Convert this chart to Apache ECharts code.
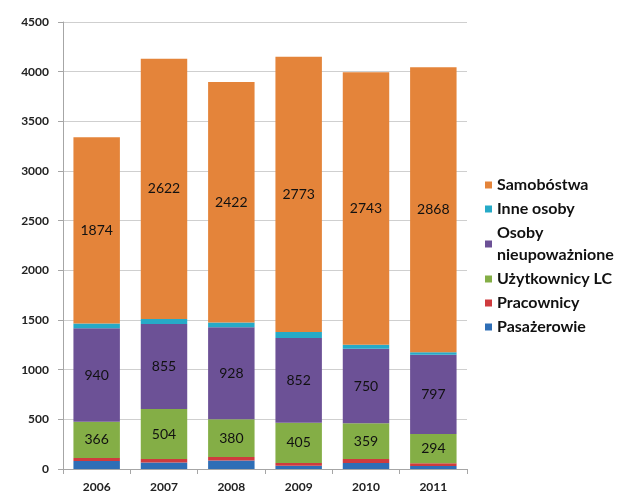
<!DOCTYPE html>
<html>
<head>
<meta charset="utf-8">
<script src="https://cdn.jsdelivr.net/npm/echarts@6/dist/echarts.min.js"></script>
<style>
  html, body { margin: 0; padding: 0; background: #fff; }
  #chart { width: 635px; height: 495px; }
</style>
</head>
<body>
<div id="chart"></div>
<script>
// Years on the category axis
const years = ['2006', '2007', '2008', '2009', '2010', '2011'];

// Stacked values per group, bottom to top
const pasazerowie = [80, 65, 85, 32, 60, 30];
const pracownicy = [30, 35, 35, 29, 41, 28];
const uzytkownicyLC = [366, 504, 380, 405, 359, 294];
const osobyNieupowaznione = [940, 855, 928, 852, 750, 797];
const inneOsoby = [50, 50, 47, 60, 40, 27];
const samobojstwa = [1874, 2622, 2422, 2773, 2743, 2868];

// Value axis ticks
const yMax = 4500;
const yStep = 500;

const FONT = 'Lato, "Open Sans", sans-serif';

function makeSeries(name, data, color, showLabel) {
  return {
    name: name,
    type: 'bar',
    stack: 'total',
    data: data,
    barCategoryGap: '31%',
    itemStyle: { color: color },
    label: {
      show: showLabel,
      position: 'inside',
      color: '#111',
      fontFamily: FONT,
      fontSize: 14,
      fontWeight: 'normal'
    },
    emphasis: { disabled: true }
  };
}

const series = [
  makeSeries('Pasażerowie', pasazerowie, '#2E6EB6', false),
  makeSeries('Pracownicy', pracownicy, '#CF3B3E', false),
  makeSeries('Użytkownicy LC', uzytkownicyLC, '#84AE46', true),
  makeSeries('Osoby\nnieupoważnione', osobyNieupowaznione, '#6C5196', true),
  makeSeries('Inne osoby', inneOsoby, '#26AAC7', false),
  makeSeries('Samobóstwa', samobojstwa, '#E4843A', true)
];

const chart = echarts.init(document.getElementById('chart'), null, { renderer: 'canvas' });
chart.setOption({
  animation: false,
  backgroundColor: '#fff',
  grid: { left: 63, right: 168, top: 22, bottom: 26, containLabel: false },
  legend: {
    orient: 'vertical',
    left: 480,
    top: 169,
    data: series.map(s => s.name).reverse(),
    itemWidth: 7,
    itemHeight: 7,
    itemGap: 2,
    icon: 'rect',
    textStyle: {
      fontFamily: FONT,
      fontSize: 16,
      fontWeight: 'bold',
      color: '#111',
      lineHeight: 22
    },
    selectedMode: false
  },
  xAxis: {
    type: 'category',
    data: years,
    axisLine: { lineStyle: { color: '#A6A6A6', width: 1 } },
    axisTick: { show: true, length: 5, lineStyle: { color: '#A6A6A6' } },
    axisLabel: {
      fontFamily: FONT,
      fontSize: 12,
      fontWeight: 'bold',
      color: '#222',
      margin: 12
    }
  },
  yAxis: {
    type: 'value',
    min: 0,
    max: yMax,
    interval: yStep,
    axisLine: { show: true, lineStyle: { color: '#A6A6A6', width: 1 } },
    axisTick: { show: true, length: 5, lineStyle: { color: '#A6A6A6' } },
    splitLine: { lineStyle: { color: '#CFCFCF', width: 1 } },
    axisLabel: {
      fontFamily: FONT,
      fontSize: 12,
      fontWeight: 'bold',
      color: '#222',
      margin: 14,
      formatter: v => String(v)
    }
  },
  series: series
});
</script>
</body>
</html>
